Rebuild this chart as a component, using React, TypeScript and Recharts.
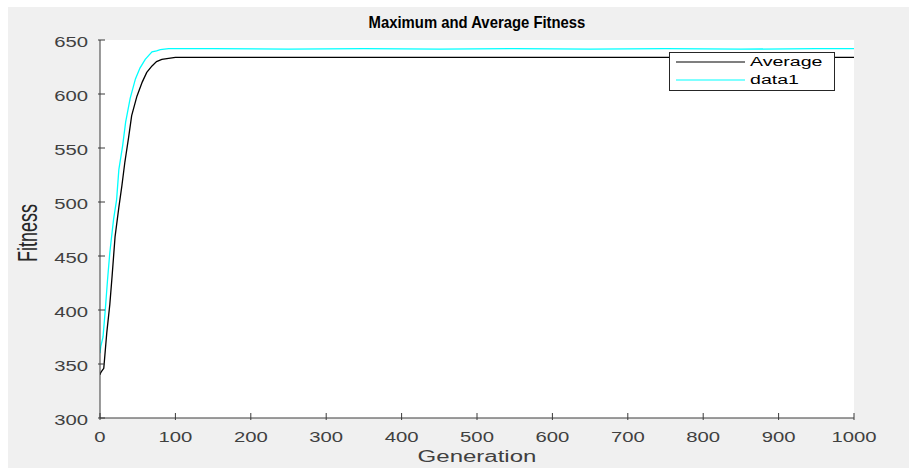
import React from "react";
import { LineChart, Line, XAxis, YAxis, CartesianGrid, Legend } from "recharts";

const axisColor = "#3a3a3a";
const textColor = "#404040";
const fontFamily = "'Liberation Sans', Arial, sans-serif";

// values
const avgGen = [0, 1, 3, 5, 9, 13, 16, 20, 25, 29, 33, 38, 42, 49, 56, 62, 69, 75, 82, 91, 100, 1000];
const avgFit = [340, 342, 344, 346, 379, 405, 431, 468, 495, 515, 537, 560, 580, 598, 611, 620, 626, 630, 632, 633, 634, 634];

const maxGen = [0, 1, 4, 7, 10, 13, 18, 22, 25, 30, 34, 40, 47, 53, 60, 65, 69, 75, 80, 91, 150, 250, 350, 450, 550, 650, 750, 850, 950, 1000];
const maxFit = [360, 366, 375, 400, 428, 453, 484, 502, 530, 552, 574, 596, 614, 624, 632, 636, 639, 640, 641, 642, 642, 641.5, 642, 641.5, 642, 641.5, 642, 641.5, 642, 642];

const xTicks = [0, 100, 200, 300, 400, 500, 600, 700, 800, 900, 1000];
const yTicks = [300, 350, 400, 450, 500, 550, 600, 650];

const avgData = avgGen.map((g, i) => ({ gen: g, fit: avgFit[i] }));
const maxData = maxGen.map((g, i) => ({ gen: g, fit: maxFit[i] }));

const TickBottom = (props: any) => {
  const { x, y, payload } = props;
  return (
    <g>
      <line x1={x} y1={y} x2={x} y2={y - 7} stroke={axisColor} />
      <text
        transform={`translate(${x},${y + 17}) scale(1.45,1)`}
        textAnchor="middle"
        dominantBaseline="central"
        fontSize={14}
        fontFamily={fontFamily}
        fill={textColor}
      >
        {payload.value}
      </text>
    </g>
  );
};

const TickTop = (props: any) => {
  const { x, y } = props;
  return <line x1={x} y1={y} x2={x} y2={y + 7} stroke={axisColor} />;
};

const TickLeft = (props: any) => {
  const { x, y, payload } = props;
  return (
    <g>
      <line x1={x} y1={y} x2={x + 7} y2={y} stroke={axisColor} />
      <text
        transform={`translate(${x - 10},${y + 2}) scale(1.45,1)`}
        textAnchor="end"
        dominantBaseline="central"
        fontSize={14}
        fontFamily={fontFamily}
        fill={textColor}
      >
        {payload.value}
      </text>
    </g>
  );
};

const TickRight = (props: any) => {
  const { x, y } = props;
  return <line x1={x} y1={y} x2={x - 7} y2={y} stroke={axisColor} />;
};

function renderLegend(props: any) {
  const items = props.payload || [];
  return (
    <svg width={166} height={39}>
      <rect x={0.5} y={0.5} width={165} height={38} fill="#fff" stroke="#262626" />
      {items.map((it: any, i: number) => (
        <g key={it.value}>
          <line x1={7} x2={76} y1={10 + i * 18} y2={10 + i * 18} stroke={it.color} strokeWidth={1.2} />
          <text
            transform={`translate(81,${10 + i * 18}) scale(1.45,1)`}
            dominantBaseline="central"
            fontSize={13.5}
            fontFamily={fontFamily}
            fill="#000"
          >
            {it.value}
          </text>
        </g>
      ))}
    </svg>
  );
}

export default function App() {
  return (
    <div style={{ position: "absolute", left: 0, top: 0, width: 909, height: 468, background: "#fff" }}>
      <div style={{ position: "absolute", left: 8, top: 7, width: 901, height: 461, background: "#f0f0f0" }}>
        <LineChart
          width={901}
          height={461}
          margin={{ top: 33, right: 55, left: 32, bottom: 20 }}
        >
          <CartesianGrid fill="#fff" horizontal={false} vertical={false} />
          <XAxis
            xAxisId="b"
            dataKey="gen"
            type="number"
            domain={[0, 1000]}
            ticks={xTicks}
            interval={0}
            height={30}
            tickSize={0}
            tickLine={false}
            tick={<TickBottom />}
            stroke={axisColor}
            allowDataOverflow
          />
          <XAxis
            xAxisId="t"
            orientation="top"
            type="number"
            domain={[0, 1000]}
            ticks={xTicks}
            interval={0}
            height={0}
            tickSize={0}
            tickLine={false}
            tick={<TickTop />}
            stroke={axisColor}
          />
          <YAxis
            yAxisId="l"
            type="number"
            domain={[300, 650]}
            ticks={yTicks}
            interval={0}
            width={60}
            tickSize={0}
            tickLine={false}
            tick={<TickLeft />}
            stroke={axisColor}
            allowDataOverflow
          />
          <YAxis
            yAxisId="r"
            orientation="right"
            type="number"
            domain={[300, 650]}
            ticks={yTicks}
            interval={0}
            width={0}
            tickSize={0}
            tickLine={false}
            tick={<TickRight />}
            stroke={axisColor}
          />
          <Line
            xAxisId="b"
            yAxisId="l"
            data={avgData}
            dataKey="fit"
            name="Average"
            type="linear"
            stroke="#000000"
            strokeWidth={1.3}
            dot={false}
            isAnimationActive={false}
          />
          <Line
            xAxisId="b"
            yAxisId="l"
            data={maxData}
            dataKey="fit"
            name="data1"
            type="linear"
            stroke="#00ffff"
            strokeWidth={1.3}
            dot={false}
            isAnimationActive={false}
          />
          <Legend
            layout="vertical"
            align="center"
            verticalAlign="middle"
            content={renderLegend}
            wrapperStyle={{ position: "absolute", left: 661, top: 45, width: 166, height: 39 }}
          />
        </LineChart>
        <div
          style={{
            position: "absolute",
            left: 92,
            top: 5,
            width: 754,
            textAlign: "center",
            fontFamily,
            fontWeight: "bold",
            fontSize: 16.5,
            lineHeight: "20px",
            color: "#000",
            transform: "scale(0.9,1)",
          }}
        >
          Maximum and Average Fitness
        </div>
        <div
          style={{
            position: "absolute",
            left: 92,
            top: 440,
            width: 754,
            textAlign: "center",
            fontFamily,
            fontSize: 16,
            lineHeight: "20px",
            color: textColor,
            transform: "scale(1.5,1)",
          }}
        >
          Generation
        </div>
        <div
          style={{
            position: "absolute",
            left: 20,
            top: 226,
            fontFamily,
            fontSize: 18,
            lineHeight: "20px",
            whiteSpace: "nowrap",
            color: "#262626",
            transform: "translate(-50%,-50%) scale(1.5,1) rotate(-90deg)",
          }}
        >
          Fitness
        </div>
      </div>
    </div>
  );
}
